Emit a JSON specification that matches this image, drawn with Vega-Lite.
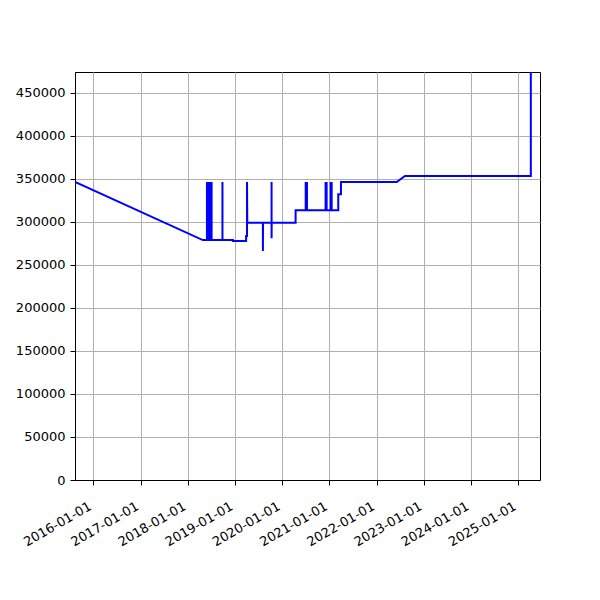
{
  "$schema": "https://vega.github.io/schema/vega-lite/v6.json",
  "width": 465,
  "height": 408,
  "autosize": "none",
  "padding": {"left": 75, "top": 72, "right": 60, "bottom": 120},
  "background": "white",
  "config": {
    "font": "DejaVu Sans",
    "view": {"stroke": "black", "strokeWidth": 1},
    "axis": {
      "labelFont": "DejaVu Sans",
      "labelFontSize": 13,
      "labelColor": "black",
      "tickColor": "black",
      "tickSize": 5,
      "tickWidth": 1,
      "domainColor": "black",
      "domainWidth": 1,
      "gridColor": "#b0b0b0",
      "gridWidth": 1,
      "title": null
    }
  },
  "data": {
    "values": [
      {"i": 1, "date": "2015-08-12", "v": 346500},
      {"i": 2, "date": "2018-04-27", "v": 279000},
      {"i": 3, "date": "2018-05-29", "v": 279000},
      {"i": 4, "date": "2018-05-29", "v": 346500},
      {"i": 5, "date": "2018-05-29", "v": 279000},
      {"i": 6, "date": "2018-06-04", "v": 279000},
      {"i": 7, "date": "2018-06-04", "v": 346500},
      {"i": 8, "date": "2018-06-04", "v": 279000},
      {"i": 9, "date": "2018-06-10", "v": 279000},
      {"i": 10, "date": "2018-06-10", "v": 346500},
      {"i": 11, "date": "2018-06-10", "v": 279000},
      {"i": 12, "date": "2018-06-16", "v": 279000},
      {"i": 13, "date": "2018-06-16", "v": 346500},
      {"i": 14, "date": "2018-06-16", "v": 279000},
      {"i": 15, "date": "2018-06-22", "v": 279000},
      {"i": 16, "date": "2018-06-22", "v": 346500},
      {"i": 17, "date": "2018-06-22", "v": 279000},
      {"i": 18, "date": "2018-06-28", "v": 279000},
      {"i": 19, "date": "2018-06-28", "v": 346500},
      {"i": 20, "date": "2018-06-28", "v": 279000},
      {"i": 21, "date": "2018-07-04", "v": 279000},
      {"i": 22, "date": "2018-07-04", "v": 346500},
      {"i": 23, "date": "2018-07-04", "v": 279000},
      {"i": 24, "date": "2018-09-26", "v": 279000},
      {"i": 25, "date": "2018-09-26", "v": 346500},
      {"i": 26, "date": "2018-09-26", "v": 279000},
      {"i": 27, "date": "2018-12-16", "v": 279000},
      {"i": 28, "date": "2018-12-16", "v": 278000},
      {"i": 29, "date": "2019-03-28", "v": 278000},
      {"i": 30, "date": "2019-03-28", "v": 283700},
      {"i": 31, "date": "2019-04-04", "v": 283700},
      {"i": 32, "date": "2019-04-04", "v": 346500},
      {"i": 33, "date": "2019-04-06", "v": 299200},
      {"i": 34, "date": "2019-08-05", "v": 299200},
      {"i": 35, "date": "2019-08-05", "v": 266300},
      {"i": 36, "date": "2019-08-06", "v": 299200},
      {"i": 37, "date": "2019-10-11", "v": 299200},
      {"i": 38, "date": "2019-10-11", "v": 346500},
      {"i": 39, "date": "2019-10-11", "v": 281000},
      {"i": 40, "date": "2019-10-12", "v": 299200},
      {"i": 41, "date": "2020-04-14", "v": 299200},
      {"i": 42, "date": "2020-04-14", "v": 313600},
      {"i": 43, "date": "2020-07-01", "v": 313600},
      {"i": 44, "date": "2020-07-01", "v": 346500},
      {"i": 45, "date": "2020-07-01", "v": 313600},
      {"i": 46, "date": "2020-07-11", "v": 313600},
      {"i": 47, "date": "2020-07-11", "v": 346500},
      {"i": 48, "date": "2020-07-11", "v": 313600},
      {"i": 49, "date": "2020-12-02", "v": 313600},
      {"i": 50, "date": "2020-12-02", "v": 346500},
      {"i": 51, "date": "2020-12-02", "v": 313600},
      {"i": 52, "date": "2020-12-10", "v": 313600},
      {"i": 53, "date": "2020-12-10", "v": 346500},
      {"i": 54, "date": "2020-12-10", "v": 313600},
      {"i": 55, "date": "2021-01-11", "v": 313600},
      {"i": 56, "date": "2021-01-11", "v": 346500},
      {"i": 57, "date": "2021-01-11", "v": 313600},
      {"i": 58, "date": "2021-01-18", "v": 313600},
      {"i": 59, "date": "2021-01-18", "v": 346500},
      {"i": 60, "date": "2021-01-18", "v": 313600},
      {"i": 61, "date": "2021-03-10", "v": 313600},
      {"i": 62, "date": "2021-03-10", "v": 332200},
      {"i": 63, "date": "2021-03-31", "v": 332200},
      {"i": 64, "date": "2021-03-31", "v": 346500},
      {"i": 65, "date": "2022-06-05", "v": 346500},
      {"i": 66, "date": "2022-08-08", "v": 353500},
      {"i": 67, "date": "2025-04-08", "v": 353500},
      {"i": 68, "date": "2025-04-08", "v": 520000}
    ]
  },
  "mark": {"type": "line", "color": "#0000ff", "strokeWidth": 2, "clip": true},
  "encoding": {
    "x": {
      "field": "date",
      "type": "temporal",
      "scale": {
        "type": "utc",
        "domain": [
          {"year": 2015, "month": 8, "date": 12, "utc": true},
          {"year": 2025, "month": 6, "date": 18, "utc": true}
        ]
      },
      "axis": {
        "labelExpr": "utcFormat(datum.value, '%Y-%m-%d')",
        "tickCount": {"interval": "year", "step": 1},
        "labelAngle": -30,
        "labelAlign": "right",
        "labelBaseline": "bottom",
        "labelPadding": 26,
        "labelOverlap": false,
        "labelFlush": false
      }
    },
    "y": {
      "field": "v",
      "type": "quantitative",
      "scale": {"domain": [0, 474400], "nice": false, "zero": true},
      "axis": {
        "values": [0, 50000, 100000, 150000, 200000, 250000, 300000, 350000, 400000, 450000],
        "format": "d",
        "labelPadding": 5
      }
    },
    "order": {"field": "i"}
  }
}
